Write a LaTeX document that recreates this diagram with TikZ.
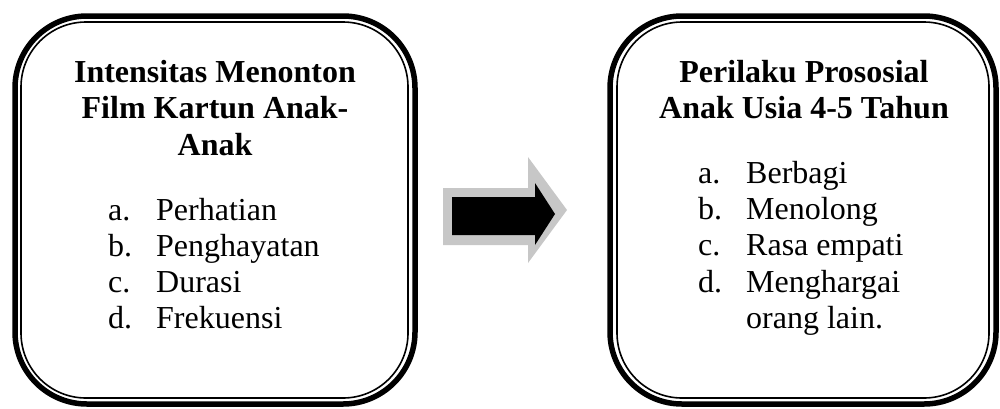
\documentclass[tikz,border=0pt]{standalone}
\usepackage{fontspec}
\setmainfont{Liberation Serif}
\begin{document}
\begin{tikzpicture}[x=1pt,y=-1pt,
  outerbox/.style={draw=black,line width=5.5pt,rounded corners=72pt,rectangle,inner sep=0pt},
  innerbox/.style={draw=black,line width=1.6pt,rounded corners=65pt,rectangle,inner sep=0pt},
  title/.style={font=\fontsize{32}{37}\selectfont\bfseries,anchor=base,inner sep=0pt},
  item/.style={font=\fontsize{32}{37}\selectfont,anchor=base west,inner sep=0pt}]
\useasboundingbox (0,0) rectangle (1000,408);
% left box
\node[outerbox,minimum width=400pt,minimum height=388pt] (Lout) at (215,210) {};
\node[innerbox,minimum width=387pt,minimum height=376pt] (Lin) at (214.5,210) {};
\node[title] (Lt1) at (215,82) {Intensitas Menonton};
\node[title] (Lt2) at (215,118) {Film Kartun Anak-};
\node[title] (Lt3) at (215,155) {Anak};
\node[item] (La) at (108,220) {a.};
\node[item] (Lb) at (108,256) {b.};
\node[item] (Lc) at (108,292) {c.};
\node[item] (Ld) at (108,328) {d.};
\node[item] (La2) at (156,220) {Perhatian};
\node[item] (Lb2) at (156,256) {Penghayatan};
\node[item] (Lc2) at (156,292) {Durasi};
\node[item] (Ld2) at (156,328) {Frekuensi};
% right box
\node[outerbox,minimum width=386pt,minimum height=388pt] (Rout) at (803,210) {};
\node[innerbox,minimum width=372pt,minimum height=376pt] (Rin) at (803,210) {};
\node[title] (Rt1) at (804,82) {Perilaku Prososial};
\node[title] (Rt2) at (804,118) {Anak Usia 4-5 Tahun};
\node[item] (Ra) at (698,183) {a.};
\node[item] (Rb) at (698,219) {b.};
\node[item] (Rc) at (698,255) {c.};
\node[item] (Rd) at (698,292) {d.};
\node[item] (Ra2) at (746,183) {Berbagi};
\node[item] (Rb2) at (746,219) {Menolong};
\node[item] (Rc2) at (746,255) {Rasa empati};
\node[item] (Rd2) at (746,292) {Menghargai};
\node[item] (Re2) at (746,328) {orang lain.};
% block arrow
\fill[black!22] (443,188) -- (528,188) -- (528,157) -- (567,210) -- (528,263) -- (528,245) -- (443,245) -- cycle;
\fill[black] (452,197) -- (535,197) -- (535,183) -- (555,214) -- (535,245) -- (535,235) -- (452,235) -- cycle;
\end{tikzpicture}
\end{document}
